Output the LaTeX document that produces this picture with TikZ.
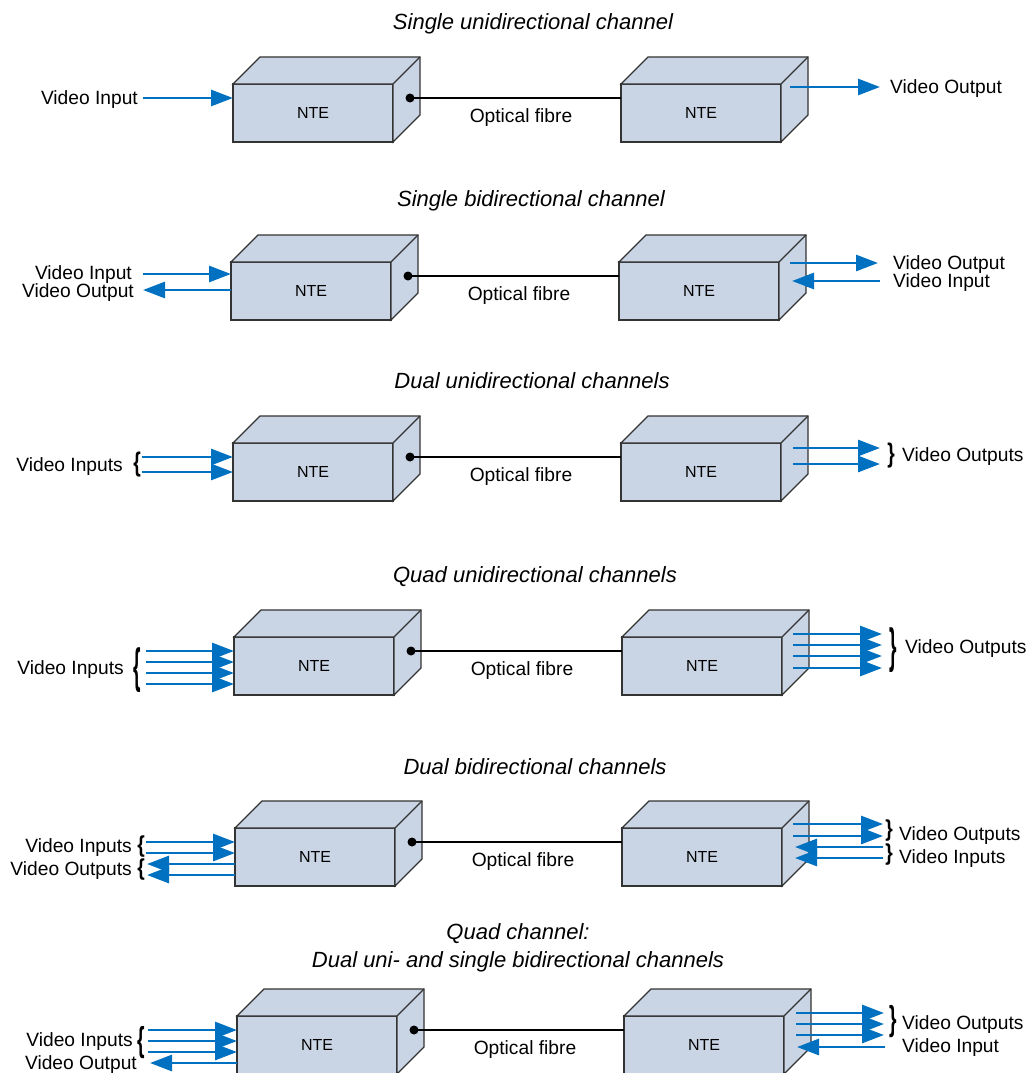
\documentclass[tikz,border=0pt]{standalone}
\usepackage{fontspec}
\setmainfont{Liberation Sans}
\usetikzlibrary{arrows.meta,calc}
\definecolor{boxfill}{HTML}{C9D5E4}
\definecolor{vblue}{HTML}{0070C0}
\definecolor{edge}{HTML}{333333}
\tikzset{
  ntebox/.style={draw=edge,fill=boxfill,line width=1.2pt,minimum width=160pt,minimum height=58pt,
    inner sep=0pt,outer sep=0pt,anchor=north west,font=\fontsize{16}{18}\selectfont},
  vid/.style={draw=vblue,line width=2.9pt,-{Triangle[length=22pt,width=16pt]}},
  lbl/.style={inner sep=0pt,font=\fontsize{19.2}{22}\selectfont},
  ttl/.style={inner sep=0pt,align=center,font=\fontsize{22}{28}\selectfont\itshape},
}
% box: name, x, y of the front face's top left corner
\newcommand{\ntebox}[3]{%
  \node[ntebox] (#1) at (#2,#3) {NTE};
  \filldraw[draw=edge,fill=boxfill,line width=1.2pt] (#1.north west) -- ++(27,-27) -- ++(160,0)
    -- ++(0,58) -- ++(-27,27) -- (#1.north east) -- cycle;
  \draw[edge,line width=1.2pt] (#1.north east) -- ++(27,-27);
}
% fibre between the boxes of one row
\newcommand{\fibre}[1]{%
  \coordinate (d#1) at ([shift={(17,14)}]l#1.north east);
  \draw[line width=1.2pt] (d#1) -- (r#1.west |- d#1);
  \fill (d#1) circle (4.5pt);
  \node[lbl] (of#1) at ([shift={(128,34)}]l#1.north east) {Optical fibre};
}
\newcommand{\brL}[1]{\scalebox{1}[#1]{\bfseries\{}}
\newcommand{\brR}[1]{\scalebox{1}[#1]{\bfseries\}}}
\begin{document}
\begin{tikzpicture}[x=1pt,y=-1pt]
\useasboundingbox (0,0) rectangle (1032,1073);
\clip (0,0) rectangle (1032,1073);

% single unidirectional
\node[ttl,anchor=mid] (t1) at (533,27) {Single unidirectional channel};
\ntebox{l1}{233}{84}
\ntebox{r1}{621}{84}
\fibre{1}
\node[lbl,anchor=mid east] (vi1) at (138,102) {Video Input};
\node[lbl,anchor=mid west] (vo1) at (890,91) {Video Output};
\draw[vid] (143,98) -- (l1.west |- 0,98);
\draw[vid] (790,87) -- (880,87);

% single bidirectional
\node[ttl,anchor=mid] (t2) at (531,204) {Single bidirectional channel};
\ntebox{l2}{231}{262}
\ntebox{r2}{619}{262}
\fibre{2}
\node[lbl,anchor=mid east] (vi2) at (132,277) {Video Input};
\node[lbl,anchor=mid east] (vo2) at (134,295) {Video Output};
\node[lbl,anchor=mid west] (vo2r) at (893,267) {Video Output};
\node[lbl,anchor=mid west] (vi2r) at (893,285) {Video Input};
\draw[vid] (143,274) -- (l2.west |- 0,274);
\draw[vid] (l2.west |- 0,290) -- (143,290);
\draw[vid] (790,263) -- (878,263);
\draw[vid] (880,281) -- (792,281);

% dual unidirectional
\node[ttl,anchor=mid] (t3) at (532,386) {Dual unidirectional channels};
\ntebox{l3}{233}{443}
\ntebox{r3}{621}{443}
\fibre{3}
\node[lbl,anchor=mid east] (vi3) at (123,469) {Video Inputs};
\node[lbl] (bl3) at (137,465) {\brL{1.4}};
\node[lbl] (br3) at (891,456) {\brR{1.4}};
\node[lbl,anchor=mid west] (vo3) at (902,459) {Video Outputs};
\foreach \y in {457,472} \draw[vid] (142,\y) -- (l3.west |- 0,\y);
\foreach \y in {448,464} \draw[vid] (793,\y) -- (880,\y);

% quad unidirectional
\node[ttl,anchor=mid] (t4) at (535,580) {Quad unidirectional channels};
\ntebox{l4}{234}{637}
\ntebox{r4}{622}{637}
\fibre{4}
\node[lbl,anchor=mid east] (vi4) at (124,672) {Video Inputs};
\node[lbl] (bl4) at (137,670) {\brL{2.5}};
\node[lbl] (br4) at (893,650) {\brR{2.5}};
\node[lbl,anchor=mid west] (vo4) at (905,651) {Video Outputs};
\foreach \y in {651,662,673,684} \draw[vid] (146,\y) -- (l4.west |- 0,\y);
\foreach \y in {634,645,656,668} \draw[vid] (793,\y) -- (882,\y);

% dual bidirectional
\node[ttl,anchor=mid] (t5) at (535,772) {Dual bidirectional channels};
\ntebox{l5}{235}{828}
\ntebox{r5}{622}{828}
\fibre{5}
\node[lbl,anchor=mid east] (vi5) at (132,850) {Video Inputs};
\node[lbl,anchor=mid east] (vo5) at (132,873) {Video Outputs};
\node[lbl] (bl5a) at (141,847) {\brL{1.2}};
\node[lbl] (bl5b) at (141,870) {\brL{1.2}};
\node[lbl] (br5a) at (889,831) {\brR{1.2}};
\node[lbl] (br5b) at (889,855) {\brR{1.2}};
\node[lbl,anchor=mid west] (vo5r) at (899,838) {Video Outputs};
\node[lbl,anchor=mid west] (vi5r) at (899,861) {Video Inputs};
\foreach \y in {842,853} \draw[vid] (146,\y) -- (l5.west |- 0,\y);
\foreach \y in {864,875} \draw[vid] (l5.west |- 0,\y) -- (147,\y);
\foreach \y in {824,836} \draw[vid] (793,\y) -- (883,\y);
\foreach \y in {847,858} \draw[vid] (883,\y) -- (795,\y);

% quad channel, dual uni- and single bidirectional
\node[ttl,anchor=mid] (t6) at (518,965) {Quad channel:\\Dual uni- and single bidirectional channels};
\ntebox{l6}{237}{1016}
\ntebox{r6}{624}{1016}
\fibre{6}
\node[lbl,anchor=mid east] (vi6) at (133,1044) {Video Inputs};
\node[lbl,anchor=mid east] (vo6) at (137,1067) {Video Output};
\node[lbl] (bl6) at (141,1043) {\brL{1.8}};
\node[lbl] (br6) at (893,1022) {\brR{1.8}};
\node[lbl,anchor=mid west] (vo6r) at (902,1027) {Video Outputs};
\node[lbl,anchor=mid west] (vi6r) at (902,1050) {Video Input};
\foreach \y in {1030,1041,1052} \draw[vid] (148,\y) -- (l6.west |- 0,\y);
\draw[vid] (l6.west |- 0,1063) -- (150,1063);
\foreach \y in {1013,1024,1035} \draw[vid] (796,\y) -- (884,\y);
\draw[vid] (885,1047) -- (797,1047);
\end{tikzpicture}
\end{document}
